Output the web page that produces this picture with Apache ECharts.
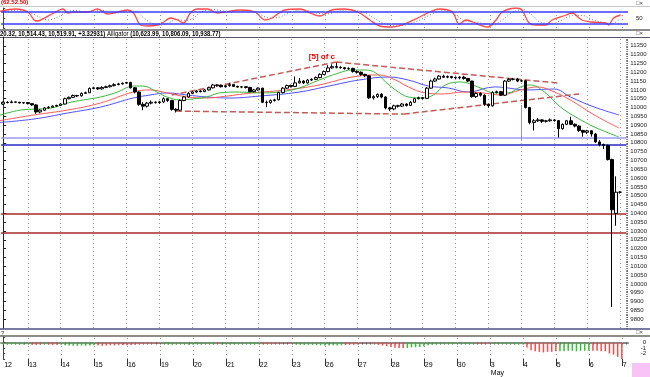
<!DOCTYPE html>
<html><head><meta charset="utf-8">
<script src="https://cdn.jsdelivr.net/npm/echarts/dist/echarts.min.js"></script>
<style>html,body{margin:0;padding:0;background:#fff}#c{width:650px;height:377px}</style>
</head><body><div id="c"></div>
<script>
// ---------- DATA ----------
const dayLabels = ['12','13','14','15','16','19','20','21','22','23','26','27','28','29','30','3','4','5','6','7'];
const monthLabel = {day: '3', text: 'May'};
// bars: [open, close, low, high]
const candles = [
[11020,11030,11015,11034],[11030,11028,11024,11036],[11028,11032,11025,11040],[11032,11030,11027,11034],[11030,11026,11023,11032],[11026,11028,11022,11031],[11028,11022,11018,11030],
[11022,11015,11010,11025],[11015,10975,10965,11018],[10975,10985,10968,10990],[10985,10998,10980,11003],[10998,11002,10995,11008],[11002,11008,10999,11012],[11008,11012,11004,11016],[11012,11020,11008,11024],
[11020,11050,11018,11056],[11050,11058,11046,11062],[11058,11068,11054,11074],[11068,11066,11060,11072],[11066,11080,11063,11086],[11080,11084,11078,11090],[11084,11108,11082,11114],[11108,11112,11104,11118],
[11112,11106,11100,11116],[11106,11114,11102,11120],[11114,11118,11110,11124],[11118,11124,11114,11130],[11124,11130,11120,11138],[11130,11134,11126,11140],[11134,11138,11130,11142],[11138,11142,11135,11146],
[11142,11112,11108,11146],[11112,11088,11080,11116],[11088,11018,11010,11092],[11018,11008,10985,11030],[11008,11025,11000,11032],[11025,11030,11018,11040],[11030,11028,11022,11036],[11028,11032,11020,11038],
[11032,11050,11025,11058],[11050,11040,11032,11054],[11040,10990,10982,11044],[10990,10985,10972,10996],[10985,11040,10980,11046],[11040,11060,11036,11066],[11060,11080,11056,11088],[11080,11088,11076,11094],
[11088,11094,11082,11100],[11094,11090,11086,11098],[11090,11100,11088,11106],[11100,11112,11096,11118],[11112,11128,11108,11134],[11128,11126,11120,11132],[11126,11118,11114,11130],[11118,11124,11114,11128],
[11124,11130,11118,11140],[11130,11120,11116,11134],[11120,11116,11112,11124],[11116,11118,11110,11122],[11118,11114,11108,11120],[11114,11090,11086,11118],[11090,11100,11086,11106],[11100,11110,11096,11114],
[11110,11030,11025,11112],[11030,11028,11002,11040],[11028,11040,11022,11046],[11040,11044,11034,11050],[11044,11085,11040,11090],[11085,11110,11080,11116],[11110,11125,11106,11130],[11125,11120,11114,11130],
[11120,11140,11116,11176],[11140,11150,11136,11168],[11150,11140,11134,11155],[11140,11156,11136,11162],[11156,11160,11150,11166],[11160,11170,11156,11176],[11170,11188,11166,11194],[11188,11204,11184,11210],
[11204,11225,11200,11240],[11225,11232,11220,11245],[11232,11228,11222,11255],[11228,11226,11220,11234],[11226,11220,11216,11230],[11220,11222,11215,11228],[11222,11205,11198,11226],[11205,11200,11192,11210],
[11200,11188,11180,11205],[11188,11180,11172,11192],[11180,11055,11048,11184],[11055,11062,11045,11070],[11062,11075,11054,11080],[11075,11060,11052,11082],[11060,10998,10990,11064],[10998,10992,10980,11004],
[10992,11010,10985,11016],[11010,11008,11000,11016],[11008,11020,11004,11026],[11020,11012,11006,11024],[11012,11030,11008,11036],[11030,11050,11026,11056],[11050,11056,11046,11062],[11056,11052,11046,11060],
[11052,11110,11048,11116],[11110,11150,11106,11158],[11150,11162,11146,11170],[11162,11178,11158,11184],[11178,11172,11168,11186],[11172,11176,11166,11182],[11176,11170,11164,11180],[11170,11168,11162,11176],
[11168,11172,11160,11178],[11172,11165,11158,11180],[11165,11150,11144,11168],[11150,11062,11056,11152],[11062,11080,11055,11086],[11080,11070,11062,11086],[11070,11018,11010,11074],[11018,11010,11000,11022],
[11010,11085,11005,11092],[11085,11090,11080,11096],[11090,11070,11066,11094],[11070,11150,11066,11156],[11150,11160,11146,11168],[11160,11162,11154,11168],[11162,11150,11144,11166],[11150,11152,11145,11158],
[11152,11000,10995,11155],[11000,10915,10905,11004],[10915,10925,10870,10935],[10925,10930,10918,10940],[10930,10922,10912,10934],[10922,10925,10915,10930],[10925,10930,10920,10938],[10930,10926,10920,10934],
[10926,10880,10830,10928],[10880,10905,10875,10910],[10905,10925,10900,10930],[10925,10905,10900,10948],[10905,10895,10888,10910],[10895,10870,10862,10900],[10870,10860,10835,10874],[10860,10868,10850,10874],
[10868,10850,10835,10872],[10850,10805,10800,10856],[10805,10790,10780,10815],[10790,10785,10765,10795],[10785,10705,10700,10790],[10705,10420,9870,10710],[10400,10520,10330,10610],[10520,10520,10512,10525]
];
// Alligator lines [barIndex, value]
const jaw = [[-1,10915],[7.5,10935],[15.7,10969],[23.7,11003],[31.6,11054],[35.7,11071],[39.8,11083],[44.7,11071],[49.5,11060],[55,11054],[62.3,11065],[72,11088],[79.2,11122],[86.5,11156],[93.7,11173],[98.5,11156],[103.4,11122],[108.2,11111],[113,11088],[119.5,11117],[127.5,11100],[134,11105],[137.9,11060],[143.7,11003],[149.7,10958]];
const teeth = [[-1,10925],[7.5,10958],[15.7,10986],[23.7,11026],[31.6,11088],[35.7,11100],[39.8,11083],[44.7,11060],[49.5,11054],[52.6,11060],[60.6,11083],[68.8,11100],[76.8,11128],[84.8,11173],[91.3,11185],[95.4,11156],[98.5,11117],[102.6,11083],[107,11077],[111.8,11088],[116.6,11083],[121,11071],[125.8,11100],[130,11117],[134,11088],[137.9,11043],[143.7,10958],[149.7,10884]];
const lips = [[-1,10955],[4.3,10986],[11.6,10997],[15.7,11026],[19.5,11043],[23.7,11060],[27.8,11088],[31.6,11122],[34,11122],[37.4,11088],[39.8,11060],[43,11043],[46.1,11049],[49.5,11060],[52.6,11083],[57.5,11088],[62.3,11083],[67.1,11088],[72,11111],[76.8,11156],[81.6,11196],[84.8,11213],[88.1,11213],[90.6,11196],[93,11145],[96.1,11088],[98.5,11060],[101.7,11054],[104.6,11071],[107.5,11128],[111.3,11145],[115.4,11117],[119.5,11083],[122.7,11083],[125.8,11117],[128.2,11128],[131.6,11088],[135.5,11003],[139.6,10941],[143.7,10890],[149.7,10833]];
// drawn studies
const blueTrend = [[-0.8,11084],[104,11326]];
const dashUpper = [[41,11071],[81,11258],[135,11139]];
const dashLower = [[42,10980],[97.4,10963],[140,11077]];
const vertMarker = [[126,11015],[126,10810]];
const levelsBlue = [10830, 10790];
const levelsRed = [10397, 10290];
const waveLabel = {text: '[5] of c', at: [77.5, 11285]};
// stochastic
const stochK = [[-1,82],[3,95],[6,80],[7.5,40],[8.4,35],[10,50],[12.3,75],[14.5,95],[15.7,75],[17.1,80],[20.5,80],[22.9,95],[25.3,70],[26.8,75],[30.2,90],[31.6,75],[33.3,15],[35,10],[37.4,15],[38.9,30],[40.6,50],[42.3,40],[43.7,25],[45.4,75],[47.1,95],[49.5,95],[51.9,75],[53.8,80],[57.5,90],[61.1,80],[63.5,40],[65.2,50],[68.3,90],[72,95],[74.4,75],[76.8,60],[79.7,90],[82.8,95],[86,80],[88.9,40],[91.3,10],[94.2,5],[97.3,20],[100.5,50],[103.4,80],[105.8,95],[108.9,80],[110.6,20],[112.3,40],[113.8,30],[117.4,5],[119.5,40],[121,80],[124.4,100],[125.8,90],[127.5,25],[129.2,15],[131.6,15],[133.1,40],[136.5,65],[137.9,75],[140.3,40],[142.7,30],[146.1,25],[146.8,15],[148,50],[149.7,65]];
const stochD = [[-1,78],[4,90],[7,72],[9.5,48],[11,40],[13,52],[15.5,80],[17.5,88],[19.5,82],[22,84],[24,88],[27,74],[29,78],[32,84],[34,52],[36,24],[38,14],[40,24],[42,42],[44,38],[46,48],[48,80],[51,92],[54,84],[56,85],[59,86],[62,70],[64.5,50],[67,55],[70,82],[73,90],[76,74],[78.5,70],[81,84],[84,90],[87,82],[89.5,55],[92,25],[95,10],[98,18],[101,40],[104,70],[107,88],[110,60],[112,35],[115,28],[118.5,15],[121,40],[123.5,78],[126,92],[128,68],[130,32],[133,22],[135.5,40],[138,62],[140.5,62],[143,40],[145.5,28],[147.5,22],[149.5,45]];
// gator-style histogram
const gatorLow = [
-0.3,-0.35,-0.3,-0.35,-0.4,-0.35,-0.3,
-0.4,-0.45,-0.4,-0.35,-0.4,-0.45,-0.4,-0.35,
-0.5,-0.55,-0.6,-0.6,-0.55,-0.6,-0.55,-0.5,
-0.55,-0.6,-0.55,-0.5,-0.55,-0.5,-0.45,-0.5,
-0.45,-0.4,-0.35,-0.3,-0.3,-0.25,-0.25,-0.2,
-0.3,-0.35,-0.4,-0.35,-0.3,-0.35,-0.4,-0.35,
-0.3,-0.35,-0.3,-0.3,-0.35,-0.3,-0.35,-0.3,
-0.35,-0.3,-0.3,-0.35,-0.3,-0.3,-0.35,-0.3,
-0.3,-0.25,-0.3,-0.25,-0.2,-0.15,-0.15,-0.2,
-0.35,-0.4,-0.45,-0.4,-0.45,-0.5,-0.5,-0.55,
-0.55,-0.5,-0.55,-0.5,-0.45,-0.4,-0.4,-0.35,
-0.2,-0.15,-0.2,-0.3,-0.45,-0.55,-0.65,-0.8,
-0.95,-1.0,-1.05,-1.0,-0.9,-0.85,-0.8,-0.7,
-0.5,-0.4,-0.35,-0.3,-0.3,-0.25,-0.3,-0.25,
-0.3,-0.25,-0.3,-0.3,-0.2,-0.2,-0.25,-0.2,
-0.25,-0.3,-0.25,-0.3,-0.35,-0.4,-0.35,-0.3,
-0.9,-1.4,-1.6,-1.7,-1.8,-1.7,-1.7,-1.6,
-1.6,-1.6,-1.5,-1.5,-1.6,-1.5,-1.5,-1.5,
-1.5,-1.5,-1.6,-1.6,-2.0,-2.2,-2.6,-3.0];
const gatorDir = [
1,1,1,1,1,1,1,
-1,-1,-1,1,-1,-1,-1,1,
1,1,1,1,1,1,1,1,
-1,-1,-1,-1,-1,-1,-1,-1,
-1,-1,-1,-1,-1,-1,-1,-1,
1,1,1,1,1,1,1,1,
1,1,1,1,1,-1,1,1,
1,1,1,1,1,1,1,1,
-1,-1,-1,-1,-1,-1,-1,-1,
1,1,1,1,1,1,1,1,
1,1,1,1,-1,-1,-1,-1,
-1,-1,-1,-1,-1,-1,-1,-1,
-1,-1,-1,1,1,1,1,1,
1,1,1,1,1,1,1,1,
1,1,1,1,-1,-1,-1,-1,
1,1,1,1,1,1,1,1,
-1,-1,-1,-1,-1,-1,-1,-1,
1,1,1,1,1,1,1,1,
-1,-1,-1,-1,-1,-1,-1,-1];
const headerParts = [['k','20.32, 10,514.43, 10,519.91, +3.32931) '],['g','Alligator '],['k','('],['gr','10,623.99, '],['r','10,806.09, '],['b','10,938.77'],['k',')']];
const stochTitle = '(62.52.50)';

// ---------- BUILD ----------
const FF = '"Liberation Sans Narrow","Liberation Sans",Arial,sans-serif';
const N = candles.length + 1;               // one empty slot for May 7
const cats = []; for (let i = 0; i < N; i++) cats.push('b' + i);
const labelAt = {}; labelAt[0] = dayLabels[0];
const dayTicks = [];
for (let d = 1; d < dayLabels.length; d++) { const t = 8 * d - 2; dayTicks.push(t); labelAt[t] = dayLabels[d]; }
const XMIN = -0.5, XMAX = N - 0.5;
const LEFT = 1.1, RIGHT = 22;

const dotted = {color: '#9a9a9a', type: [1, 3], width: 1};
const vLines = dayTicks.map(t => ({xAxis: t, lineStyle: dotted}));

const mainMarks = [];
levelsBlue.forEach((v, k) => mainMarks.push({yAxis: v, lineStyle: {color: k === 0 ? '#9a9af2' : '#2a2ac4', width: 1.5, type: 'solid'}}));
levelsRed.forEach(v => mainMarks.push({yAxis: v, lineStyle: {color: '#a82828', width: 1.5, type: 'solid'}}));
function seg(arr, style) { const out = []; for (let k = 0; k < arr.length - 1; k++) out.push([{coord: arr[k], lineStyle: style}, {coord: arr[k + 1]}]); return out; }
const dashStyle = {color: '#c45a55', width: 1.5, type: [6, 3]};
mainMarks.push(...seg(blueTrend, {color: '#3c3cff', width: 1, type: 'solid'}));
mainMarks.push(...seg(dashUpper, dashStyle));
mainMarks.push(...seg(dashLower, dashStyle));
mainMarks.push(...seg(vertMarker, {color: '#8c8cf0', width: 1, type: 'solid'}));
mainMarks.push(...vLines);

const rich = {
  k: {color: '#000', fontWeight: 'bold'}, g: {color: '#8a8a8a'}, gr: {color: '#009a00', fontWeight: 'bold'},
  r: {color: '#ff0000', fontWeight: 'bold'}, b: {color: '#0000ff', fontWeight: 'bold'}
};
Object.values(rich).forEach(s => { s.fontSize = 6.5; s.fontFamily = FF; });
const headerText = headerParts.map(p => '{' + p[0] + '|' + p[1] + '}').join('');

const chart = echarts.init(document.getElementById('c'), null, {renderer: 'canvas', width: 650, height: 377});
const hiddenVal = g => ({type: 'value', gridIndex: g, min: XMIN, max: XMAX, show: false});
chart.setOption({
  animation: false,
  backgroundColor: '#fff',
  grid: [
    {left: LEFT, right: RIGHT, top: 8, height: 20},
    {left: LEFT, right: RIGHT, top: 37, height: 291},
    {left: LEFT, right: RIGHT, top: 337, height: 23}
  ],
  xAxis: [
    hiddenVal(0),
    {type: 'category', gridIndex: 1, data: cats, show: false},
    hiddenVal(1),
    {type: 'category', gridIndex: 2, data: cats, position: 'bottom',
      axisLine: {show: true, lineStyle: {color: '#888', width: 2}},
      axisTick: {show: true, interval: 0, length: 2, alignWithLabel: true, lineStyle: {color: '#555'}},
      axisLabel: {show: true, interval: (i) => labelAt[i] !== undefined, margin: 2, align: 'left', fontSize: 7, fontFamily: FF, color: '#000', lineHeight: 8, padding: [0, 0, 0, 1],
        formatter: (v, i) => { const l = labelAt[i]; if (l === undefined) return ''; return l === monthLabel.day ? l + '\n' + monthLabel.text : l; }},
      splitLine: {show: false}},
    {type: 'category', gridIndex: 2, data: cats, position: 'bottom',
      axisLine: {show: false}, axisLabel: {show: false},
      axisTick: {show: true, interval: (i) => labelAt[i] !== undefined && i > 0, length: 7, alignWithLabel: true, lineStyle: {color: '#333'}}},
    hiddenVal(2)
  ],
  yAxis: [
    {type: 'value', gridIndex: 0, position: 'right', min: 0, max: 100, interval: 50,
      axisLine: {show: true, lineStyle: {color: '#444'}}, axisTick: {show: true, length: 2}, splitLine: {show: false},
      axisLabel: {fontSize: 6, fontFamily: FF, color: '#222', margin: 8, formatter: v => v === 50 ? '50' : ''}},
    {type: 'value', gridIndex: 1, position: 'right', min: 9750, max: 11400, interval: 50,
      axisLine: {show: true, lineStyle: {color: '#222'}}, axisTick: {show: true, length: 3, lineStyle: {color: '#222'}},
      splitLine: {show: false},
      axisLabel: {fontSize: 6, fontFamily: FF, color: '#222', margin: 4, showMinLabel: false, showMaxLabel: false, formatter: v => String(v)}},
    {type: 'value', gridIndex: 2, position: 'right', min: -3, max: 1, interval: 1,
      axisLine: {show: true, lineStyle: {color: '#444'}}, axisTick: {show: true, length: 2}, splitLine: {show: false},
      axisLabel: {fontSize: 6, fontFamily: FF, color: '#222', margin: 18, align: 'right', formatter: v => (v === 0 || v === -1 || v === -2) ? String(v) : ''}},
    {type: 'value', gridIndex: 1, position: 'right', min: 9750, max: 11400, interval: 10,
      axisLine: {show: false}, axisTick: {show: true, length: 1.5, lineStyle: {color: '#555'}},
      splitLine: {show: false}, axisLabel: {show: false}}
  ],
  series: [
    {type: 'line', name: 'K', xAxisIndex: 0, yAxisIndex: 0, data: stochK, smooth: 0.35, showSymbol: false,
      lineStyle: {color: '#ff4848', width: 1.3}, z: 3,
      markLine: {silent: true, symbol: 'none', label: {show: false},
        data: [{yAxis: 80, lineStyle: {color: '#3a3aff', width: 1.5, type: 'solid'}}, {yAxis: 20, lineStyle: {color: '#3a3aff', width: 1.5, type: 'solid'}}, ...vLines]}},
    {type: 'line', name: 'D', xAxisIndex: 0, yAxisIndex: 0, data: stochD, smooth: 0.35, showSymbol: false,
      lineStyle: {color: '#7a7a7a', width: 1, type: [1, 2]}, z: 2},
    {type: 'line', name: 'Jaw', xAxisIndex: 2, yAxisIndex: 1, data: jaw, smooth: 0.4, showSymbol: false,
      lineStyle: {color: '#5050ff', width: 1}, z: 2,
      markLine: {silent: true, symbol: 'none', label: {show: false}, data: mainMarks},
      markPoint: {silent: true, symbol: 'circle', symbolSize: 0,
        data: [{coord: waveLabel.at, value: waveLabel.text}],
        label: {show: true, formatter: waveLabel.text, color: '#ee0000', fontSize: 8, fontWeight: 'bold', fontFamily: FF, position: 'inside'}}},
    {type: 'line', name: 'Teeth', xAxisIndex: 2, yAxisIndex: 1, data: teeth, smooth: 0.4, showSymbol: false,
      lineStyle: {color: '#ff5a5a', width: 1}, z: 2},
    {type: 'line', name: 'Lips', xAxisIndex: 2, yAxisIndex: 1, data: lips, smooth: 0.4, showSymbol: false,
      lineStyle: {color: '#3cb83c', width: 1}, z: 2},
    {type: 'candlestick', xAxisIndex: 1, yAxisIndex: 1, data: candles, barWidth: 3, z: 5,
      itemStyle: {color: '#ffffff', color0: '#000000', borderColor: '#000000', borderColor0: '#000000', borderWidth: 1}},
    {type: 'bar', xAxisIndex: 3, yAxisIndex: 2, barWidth: 1.5,
      data: gatorLow.map((v, i) => ({value: v, itemStyle: {color: gatorDir[i] > 0 ? '#33c033' : '#ff4a4a'}})),
      markLine: {silent: true, symbol: 'none', label: {show: false}, data: dayTicks.map(t => ({xAxis: cats[t], lineStyle: dotted}))}}
  ],
  graphic: [
    {type: 'rect', shape: {x: 0, y: 6, width: 650, height: 1}, style: {fill: '#c8c8c8'}, silent: true},
    {type: 'rect', shape: {x: 0, y: 29, width: 650, height: 2}, style: {fill: '#8c8c8c'}, silent: true},
    {type: 'rect', shape: {x: 0, y: 37, width: 650, height: 1}, style: {fill: '#55556a'}, silent: true},
    {type: 'rect', shape: {x: 0, y: 328, width: 650, height: 2}, style: {fill: '#7a7aa0'}, silent: true},
    {type: 'rect', shape: {x: 0, y: 335, width: 650, height: 2}, style: {fill: '#8c8c8c'}, silent: true},
    {type: 'rect', shape: {x: 632, y: 363, width: 18, height: 14}, style: {fill: '#f8c4f8'}, silent: true},
    {type: 'text', x: 1, y: -1, style: {text: stochTitle, fill: '#e00000', font: 'bold 6px ' + FF}, silent: true},
    {type: 'text', x: 1, y: 330, style: {text: '?', fill: '#333', font: '6px ' + FF}, silent: true},
    {type: 'text', x: 0, y: 31, scaleX: 0.92, style: {text: headerText, rich: rich, font: 'bold 6.5px ' + FF}, silent: true},
    {type: 'text', x: 636, y: 0, style: {text: '□×', fill: '#444', font: '6px ' + FF}, silent: true},
    {type: 'text', x: 636, y: 30, style: {text: '□×', fill: '#444', font: '6px ' + FF}, silent: true},
    {type: 'text', x: 636, y: 329, style: {text: '□×', fill: '#444', font: '6px ' + FF}, silent: true}
  ]
});
</script></body></html>
